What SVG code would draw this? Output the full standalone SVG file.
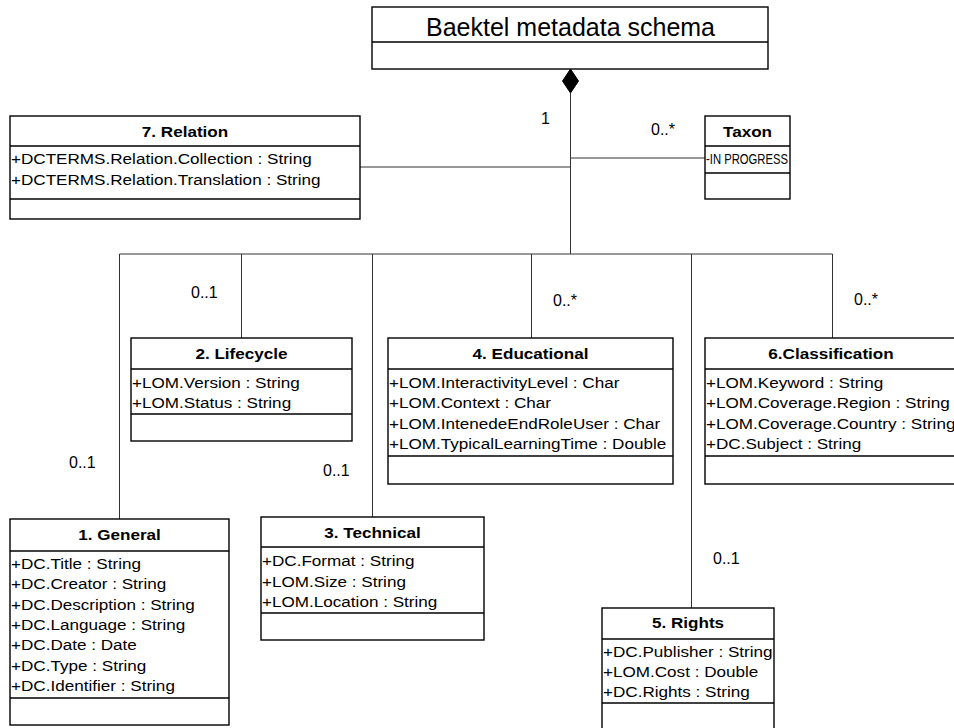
<svg xmlns="http://www.w3.org/2000/svg" width="954" height="728" viewBox="0 0 954 728">
<style>
  .box { fill: #fff; stroke: #000; stroke-width: 1.4; }
  .div { stroke: #000; stroke-width: 1.4; fill: none; }
  .con { stroke: #333; stroke-width: 1; fill: none; }
  .t { font-family: "Liberation Sans", Arial, sans-serif; font-size: 15px; font-weight: bold; text-anchor: middle; fill: #000; }
  .a { font-family: "Liberation Sans", Arial, sans-serif; font-size: 15px; fill: #000; }
  .lbl { font-family: "Liberation Sans", Arial, sans-serif; font-size: 16px; fill: #000; }
  .big { font-family: "Liberation Sans", Arial, sans-serif; font-size: 25px; text-anchor: middle; fill: #000; }
</style>
<rect width="954" height="728" fill="#fff"/>

<g id="connectors">
  <path class="con" d="M570.5,93 V254"/>
  <path class="con" d="M360,167 H570.5"/>
  <path class="con" d="M570.5,158 H705"/>
  <path class="con" d="M119.5,254 H832.5"/>
  <path class="con" d="M119.5,254 V519"/>
  <path class="con" d="M241.5,254 V338"/>
  <path class="con" d="M372.5,254 V517"/>
  <path class="con" d="M531.5,254 V338"/>
  <path class="con" d="M691.5,254 V608"/>
  <path class="con" d="M832.5,254 V338"/>
  <polygon points="570.5,69 578.5,81 570.5,93 562.5,81" fill="#000" stroke="#000" stroke-width="1"/>
  <text class="lbl" x="541" y="124">1</text>
  <text class="lbl" x="651" y="135">0..*</text>
  <text class="lbl" x="69" y="468">0..1</text>
  <text class="lbl" x="191" y="298">0..1</text>
  <text class="lbl" x="323" y="476">0..1</text>
  <text class="lbl" x="553" y="306">0..*</text>
  <text class="lbl" x="854" y="305">0..*</text>
  <text class="lbl" x="713" y="564">0..1</text>
</g>

<g id="schema">
  <rect class="box" x="372" y="7" width="396" height="62"/>
  <line class="div" x1="372" y1="42" x2="768" y2="42"/>
  <text class="big" x="570.5" y="36">Baektel metadata schema</text>
</g>

<g id="relation">
  <rect class="box" x="10" y="116" width="350" height="103"/>
  <line class="div" x1="10" y1="146" x2="360" y2="146"/>
  <line class="div" x1="10" y1="199" x2="360" y2="199"/>
  <text class="t" transform="translate(185,137) scale(1.14 1)">7. Relation</text>
  <text class="a" transform="translate(11,164) scale(1.14 1)">+DCTERMS.Relation.Collection : String</text>
  <text class="a" transform="translate(11,184.5) scale(1.14 1)">+DCTERMS.Relation.Translation : String</text>
</g>

<g id="taxon">
  <rect class="box" x="705" y="116" width="85" height="83"/>
  <line class="div" x1="705" y1="146" x2="790" y2="146"/>
  <line class="div" x1="705" y1="173" x2="790" y2="173"/>
  <text class="t" transform="translate(747.5,137) scale(1.14 1)">Taxon</text>
  <text class="a" x="706" y="164" textLength="82" lengthAdjust="spacingAndGlyphs">-IN PROGRESS</text>
</g>

<g id="lifecycle">
  <rect class="box" x="131" y="338" width="221" height="103"/>
  <line class="div" x1="131" y1="369" x2="352" y2="369"/>
  <line class="div" x1="131" y1="414" x2="352" y2="414"/>
  <text class="t" transform="translate(241.5,359) scale(1.14 1)">2. Lifecycle</text>
  <text class="a" transform="translate(132,387.5) scale(1.14 1)">+LOM.Version : String</text>
  <text class="a" transform="translate(132,408) scale(1.14 1)">+LOM.Status : String</text>
</g>

<g id="educational">
  <rect class="box" x="388" y="338" width="285" height="146"/>
  <line class="div" x1="388" y1="369" x2="673" y2="369"/>
  <line class="div" x1="388" y1="456" x2="673" y2="456"/>
  <text class="t" transform="translate(530.5,359) scale(1.14 1)">4. Educational</text>
  <text class="a" transform="translate(389,387.5) scale(1.14 1)">+LOM.InteractivityLevel : Char</text>
  <text class="a" transform="translate(389,408) scale(1.14 1)">+LOM.Context : Char</text>
  <text class="a" transform="translate(389,428.5) scale(1.14 1)">+LOM.IntenedeEndRoleUser : Char</text>
  <text class="a" transform="translate(389,449) scale(1.14 1)">+LOM.TypicalLearningTime : Double</text>
</g>

<g id="classification">
  <rect class="box" x="705" y="338" width="252" height="146"/>
  <line class="div" x1="705" y1="369" x2="957" y2="369"/>
  <line class="div" x1="705" y1="456" x2="957" y2="456"/>
  <text class="t" transform="translate(831,359) scale(1.14 1)">6.Classification</text>
  <text class="a" transform="translate(706,387.5) scale(1.14 1)">+LOM.Keyword : String</text>
  <text class="a" transform="translate(706,408) scale(1.14 1)">+LOM.Coverage.Region : String</text>
  <text class="a" transform="translate(706,428.5) scale(1.14 1)">+LOM.Coverage.Country : String</text>
  <text class="a" transform="translate(706,449) scale(1.14 1)">+DC.Subject : String</text>
</g>

<g id="general">
  <rect class="box" x="10" y="519" width="219" height="206"/>
  <line class="div" x1="10" y1="551" x2="229" y2="551"/>
  <line class="div" x1="10" y1="698" x2="229" y2="698"/>
  <text class="t" transform="translate(119.5,540) scale(1.14 1)">1. General</text>
  <text class="a" transform="translate(11,568.5) scale(1.14 1)">+DC.Title : String</text>
  <text class="a" transform="translate(11,589) scale(1.14 1)">+DC.Creator : String</text>
  <text class="a" transform="translate(11,609.5) scale(1.14 1)">+DC.Description : String</text>
  <text class="a" transform="translate(11,630) scale(1.14 1)">+DC.Language : String</text>
  <text class="a" transform="translate(11,650) scale(1.14 1)">+DC.Date : Date</text>
  <text class="a" transform="translate(11,670.5) scale(1.14 1)">+DC.Type : String</text>
  <text class="a" transform="translate(11,691) scale(1.14 1)">+DC.Identifier : String</text>
</g>

<g id="technical">
  <rect class="box" x="261" y="517" width="223" height="123"/>
  <line class="div" x1="261" y1="547" x2="484" y2="547"/>
  <line class="div" x1="261" y1="613" x2="484" y2="613"/>
  <text class="t" transform="translate(372.5,538) scale(1.14 1)">3. Technical</text>
  <text class="a" transform="translate(262,566) scale(1.14 1)">+DC.Format : String</text>
  <text class="a" transform="translate(262,586.5) scale(1.14 1)">+LOM.Size : String</text>
  <text class="a" transform="translate(262,607) scale(1.14 1)">+LOM.Location : String</text>
</g>

<g id="rights">
  <rect class="box" x="602" y="608" width="172" height="130"/>
  <line class="div" x1="602" y1="639" x2="774" y2="639"/>
  <line class="div" x1="602" y1="703" x2="774" y2="703"/>
  <text class="t" transform="translate(688,628) scale(1.14 1)">5. Rights</text>
  <text class="a" transform="translate(603,656.5) scale(1.14 1)">+DC.Publisher : String</text>
  <text class="a" transform="translate(603,677) scale(1.14 1)">+LOM.Cost : Double</text>
  <text class="a" transform="translate(603,697) scale(1.14 1)">+DC.Rights : String</text>
</g>
</svg>
